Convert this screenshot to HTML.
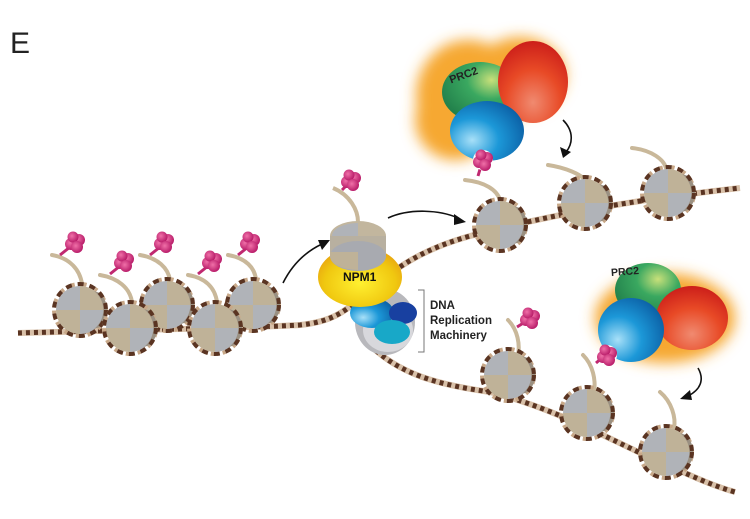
<!DOCTYPE html>
<html><head><meta charset="utf-8"><style>
html,body{margin:0;padding:0;background:#fff;}
svg{display:block;}
text{font-family:"Liberation Sans",sans-serif;}
</style></head><body>
<svg width="750" height="519" viewBox="0 0 750 519" xmlns="http://www.w3.org/2000/svg">
<defs>
<radialGradient id="gG" cx="0.65" cy="0.3" r="0.8"><stop offset="0" stop-color="#c8e07a"/><stop offset="0.4" stop-color="#3aa860"/><stop offset="1" stop-color="#1e7a48"/></radialGradient>
<radialGradient id="gR" cx="0.5" cy="0.75" r="0.8"><stop offset="0" stop-color="#f08a70"/><stop offset="0.5" stop-color="#e84a26"/><stop offset="1" stop-color="#c81818"/></radialGradient>
<radialGradient id="gB" cx="0.3" cy="0.65" r="0.8"><stop offset="0" stop-color="#a8e0f8"/><stop offset="0.45" stop-color="#1c98d8"/><stop offset="1" stop-color="#0a5aa0"/></radialGradient>
<radialGradient id="gY" cx="0.5" cy="0.6" r="0.7"><stop offset="0" stop-color="#fff030"/><stop offset="0.6" stop-color="#f0c810"/><stop offset="1" stop-color="#e49010"/></radialGradient>
<radialGradient id="gP" cx="0.4" cy="0.4" r="0.7"><stop offset="0" stop-color="#f070a8"/><stop offset="1" stop-color="#b01060"/></radialGradient>
<filter id="blur" x="-30%" y="-30%" width="160%" height="160%"><feGaussianBlur stdDeviation="7"/></filter>
<g id="nuc">
<circle r="26" fill="none" stroke="#c8a888" stroke-width="4" stroke-dasharray="3 3"/>
<path d="M0 0 L0 -24 A24 24 0 0 1 24 0 Z" fill="#bfb298"/>
<path d="M0 0 L24 0 A24 24 0 0 1 0 24 Z" fill="#b0b3b8"/>
<path d="M0 0 L0 24 A24 24 0 0 1 -24 0 Z" fill="#bfb298"/>
<path d="M0 0 L-24 0 A24 24 0 0 1 0 -24 Z" fill="#b0b3b8"/>
<path d="M14 -19 A24 24 0 0 1 14 19 L20 17 A24 24 0 0 0 20 -17Z" fill="#9a9082"/>
<circle r="26" fill="none" stroke="#5a3422" stroke-width="4" stroke-dasharray="6 6"/>
</g>
<g id="pink"><circle cx="-4" cy="2" r="6" fill="url(#gP)"/><circle cx="4" cy="-2" r="6" fill="url(#gP)"/><circle cx="-2" cy="-5" r="5.5" fill="url(#gP)"/><circle cx="2" cy="5" r="6" fill="url(#gP)"/></g>
</defs>

<text x="10" y="53" font-size="30" fill="#222">E</text>

<g fill="none">
<path id="d1" d="M18 333 C120 330 250 328 300 325 C330 322 345 312 360 298 C395 268 420 250 470 236 C560 212 650 198 740 188"/>
<path id="d2" d="M370 345 C400 375 440 385 490 392 C560 410 610 440 660 462 C690 475 710 485 735 492"/>
</g>
<use href="#d1" stroke="#d8c0a8" stroke-width="6" fill="none"/>
<use href="#d1" stroke="#5a3422" stroke-width="5" stroke-dasharray="4 4" fill="none"/>
<use href="#d2" stroke="#d8c0a8" stroke-width="6" fill="none"/>
<use href="#d2" stroke="#5a3422" stroke-width="5" stroke-dasharray="4 4" fill="none"/>

<g fill="none" stroke="#c9b89a" stroke-width="4" stroke-linecap="round">
<path d="M52 255 C70 258 80 270 82 284"/><path d="M100 275 C118 278 130 288 132 302"/>
<path d="M140 255 C158 258 168 268 170 280"/><path d="M188 275 C206 278 215 288 217 302"/>
<path d="M228 255 C246 258 255 268 256 280"/>
</g>
<g stroke="#c02870" stroke-width="3"><line x1="60" y1="255" x2="70" y2="247"/><line x1="110" y1="274" x2="120" y2="266"/><line x1="150" y1="255" x2="160" y2="247"/><line x1="198" y1="274" x2="208" y2="266"/><line x1="238" y1="255" x2="248" y2="247"/></g>
<use href="#pink" x="75" y="242"/><use href="#pink" x="124" y="261"/><use href="#pink" x="164" y="242"/><use href="#pink" x="212" y="261"/><use href="#pink" x="250" y="242"/>
<use href="#nuc" x="80" y="310"/><use href="#nuc" x="167" y="305"/><use href="#nuc" x="253" y="305"/>
<use href="#nuc" x="130" y="328"/><use href="#nuc" x="215" y="328"/>

<g fill="none" stroke="#111" stroke-width="1.6">
<path d="M283 283 C292 265 305 252 322 244"/>
<path d="M388 218 C410 208 440 210 458 218"/>
<path d="M563 120 C575 132 572 145 566 152"/>
<path d="M698 368 C705 380 700 390 688 396"/>
</g>
<g fill="#111"><path d="M330 240 L318 240 L322 250Z"/><path d="M466 222 L454 214 L454 225Z"/><path d="M563 158 L560 147 L571 152Z"/><path d="M680 399 L690 390 L692 400Z"/></g>

<ellipse cx="385" cy="322" rx="30" ry="33" fill="#b8b8bc"/>
<ellipse cx="388" cy="330" rx="25" ry="22" fill="#d8d8dc"/>
<ellipse cx="372" cy="313" rx="22" ry="15" fill="url(#gB)"/>
<ellipse cx="403" cy="313" rx="14" ry="11" fill="#1840a0"/>
<ellipse cx="392" cy="332" rx="18" ry="12" fill="#18a8c8"/>
<path d="M418 290 L424 290 L424 352 L418 352" fill="none" stroke="#777" stroke-width="1"/>
<g font-size="11.5" font-weight="bold" fill="#222"><text x="430" y="309">DNA</text><text x="430" y="324">Replication</text><text x="430" y="339">Machinery</text></g>

<ellipse cx="360" cy="277" rx="42" ry="30" fill="url(#gY)"/>
<text x="343" y="281" font-size="12" font-weight="bold" fill="#111">NPM1</text>
<path d="M333 188 C350 195 358 210 358 222" fill="none" stroke="#c9b89a" stroke-width="4"/>
<line x1="342" y1="190" x2="348" y2="184" stroke="#c02870" stroke-width="3"/>
<use href="#pink" x="351" y="180"/>
<ellipse cx="358" cy="236" rx="28" ry="15" fill="#c2b69e"/>
<rect x="330" y="236" width="56" height="20" fill="#b8b0a0"/>
<ellipse cx="358" cy="256" rx="28" ry="15" fill="#a8aab0"/>
<path d="M332 236 A26 13 0 0 1 358 223 L358 236Z" fill="#b0b3b8"/>
<path d="M330 252 L358 252 L358 270 A28 14 0 0 1 330 256Z" fill="#bfb298"/>

<g fill="none" stroke="#c9b89a" stroke-width="4" stroke-linecap="round">
<path d="M465 180 C485 182 497 190 500 200"/><path d="M548 165 C568 168 580 175 583 178"/><path d="M632 148 C652 150 664 160 666 168"/>
</g>
<use href="#nuc" x="500" y="225"/><use href="#nuc" x="585" y="203"/><use href="#nuc" x="668" y="193"/>
<g filter="url(#blur)" fill="#f6a830"><ellipse cx="468" cy="95" rx="52" ry="55"/><ellipse cx="520" cy="75" rx="45" ry="38"/><ellipse cx="455" cy="120" rx="40" ry="40"/></g>
<ellipse cx="480" cy="92" rx="38" ry="30" fill="url(#gG)"/>
<ellipse cx="533" cy="82" rx="35" ry="41" fill="url(#gR)"/>
<ellipse cx="487" cy="131" rx="37" ry="30" fill="url(#gB)"/>
<text x="449" y="80" font-size="11" font-weight="bold" fill="#222" transform="rotate(-20 460 76)">PRC2</text>
<line x1="478" y1="176" x2="481" y2="166" stroke="#c02870" stroke-width="3"/>
<circle cx="483" cy="160" r="10" fill="#fff"/>
<use href="#pink" x="483" y="160"/>

<g fill="none" stroke="#c9b89a" stroke-width="4" stroke-linecap="round">
<path d="M508 320 C518 330 520 345 518 355"/><path d="M583 355 C593 365 596 380 594 392"/><path d="M660 392 C672 402 676 418 674 428"/>
</g>
<line x1="517" y1="327" x2="525" y2="322" stroke="#c02870" stroke-width="3"/>
<use href="#pink" x="530" y="318"/>
<use href="#nuc" x="508" y="375"/><use href="#nuc" x="587" y="413"/><use href="#nuc" x="666" y="452"/>
<g filter="url(#blur)" fill="#f6a830"><ellipse cx="665" cy="318" rx="70" ry="45"/></g>
<ellipse cx="648" cy="290" rx="33" ry="27" fill="url(#gG)"/>
<ellipse cx="692" cy="318" rx="36" ry="32" fill="url(#gR)"/>
<ellipse cx="631" cy="330" rx="33" ry="32" fill="url(#gB)"/>
<text x="611" y="275" font-size="10.5" font-weight="bold" fill="#222" transform="rotate(-4 625 272)">PRC2</text>
<line x1="596" y1="363" x2="603" y2="357" stroke="#c02870" stroke-width="3"/>
<circle cx="607" cy="355" r="10" fill="#fff"/>
<use href="#pink" x="607" y="355"/>
</svg>
</body></html>
